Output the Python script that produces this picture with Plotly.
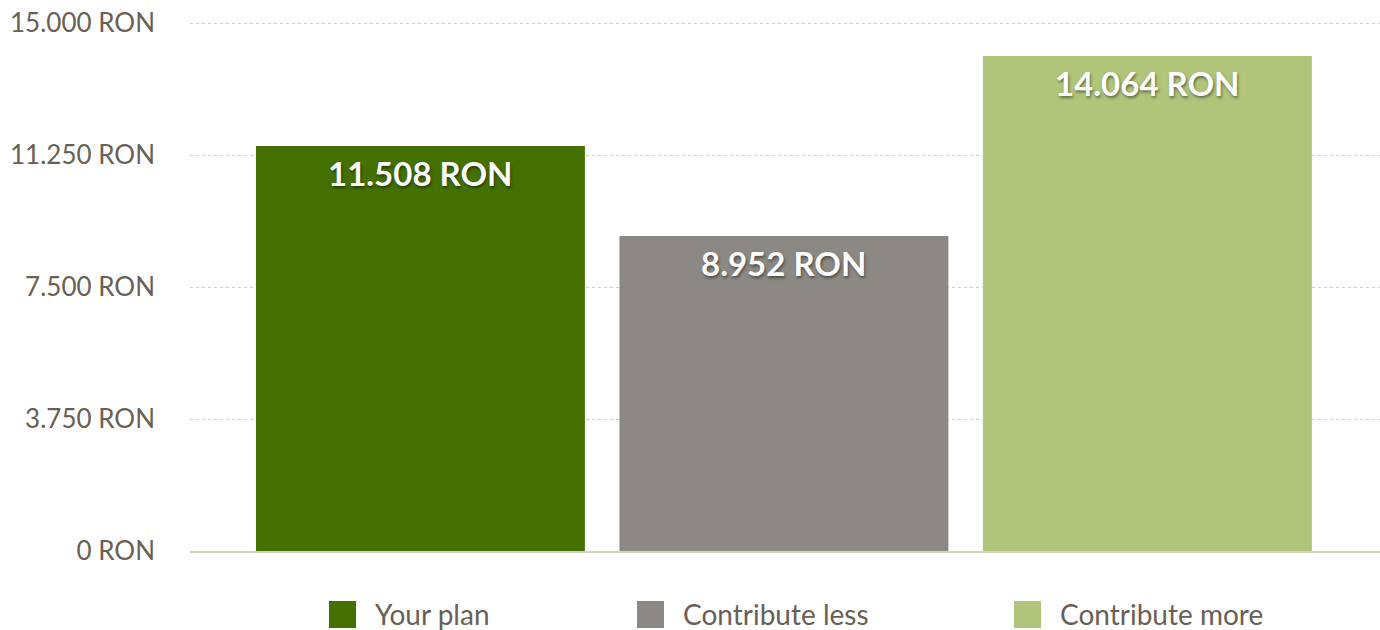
import plotly.graph_objects as go

categories = ["Your plan", "Contribute less", "Contribute more"]
values = [11508, 8952, 14064]
colors = ["#447000", "#8c8984", "#b0c57a"]
tick_vals = [0, 3750, 7500, 11250, 15000]

FONT = "Lato"
TEXT_COLOR = "#6a5f54"
W, H = 1380, 630
ML, MR, MT, MB = 190, 0, 22, 79
PW = W - ML - MR
PH = H - MT - MB


def fmt(v):
    return f"{v:,}".replace(",", ".") + " RON"


tick_text = [fmt(v) for v in tick_vals]

fig = go.Figure()
fig.add_trace(go.Bar(
    x=categories, y=values, marker=dict(color=colors, line=dict(width=0)),
    showlegend=False, hoverinfo="skip",
))

annotations = []
for c, v in zip(categories, values):
    annotations.append(dict(
        x=c, y=v, xref="x", yref="y", text=fmt(v), showarrow=False,
        yanchor="top", yshift=-5,
        font=dict(family=FONT, size=33, color="white", weight="bold",
                  shadow="1px 2px 3px rgba(0,0,0,0.45)"),
    ))

# manual legend (large square swatches)
legend_px = [329, 637, 1014]
for name, col, px in zip(categories, colors, legend_px):
    x0 = (px - ML) / PW
    x1 = (px + 27 - ML) / PW
    fig.add_shape(type="rect", xref="paper", yref="paper",
                  x0=x0, x1=x1, y0=-(601 - (H - MB)) / PH,
                  y1=-(628 - (H - MB)) / PH,
                  fillcolor=col, line=dict(width=0))
    annotations.append(dict(
        x=(px + 44 - ML) / PW, y=-(614 - (H - MB)) / PH,
        xref="paper", yref="paper", text=name, showarrow=False,
        xanchor="left", yanchor="middle",
        font=dict(family=FONT, size=28, color=TEXT_COLOR),
    ))

fig.update_layout(
    width=W, height=H,
    margin=dict(l=ML, r=MR, t=MT, b=MB, pad=0),
    paper_bgcolor="white", plot_bgcolor="white",
    bargap=0.095,
    annotations=annotations,
    font=dict(family=FONT, color=TEXT_COLOR),
    xaxis=dict(
        type="category", range=[-0.634, 2.64], showticklabels=False,
        showgrid=False, zeroline=False, showline=True,
        linecolor="#d6d1c6", linewidth=2, fixedrange=True,
    ),
    yaxis=dict(
        range=[0, 15030], tickmode="array", tickvals=tick_vals, ticktext=tick_text,
        tickfont=dict(family=FONT, size=26, color=TEXT_COLOR),
        showgrid=True, gridcolor="#cfcfcf", griddash="dot", gridwidth=1,
        zeroline=False, showline=False, ticks="", ticklabelstandoff=34,
    ),
)

fig.write_html("out.html")
